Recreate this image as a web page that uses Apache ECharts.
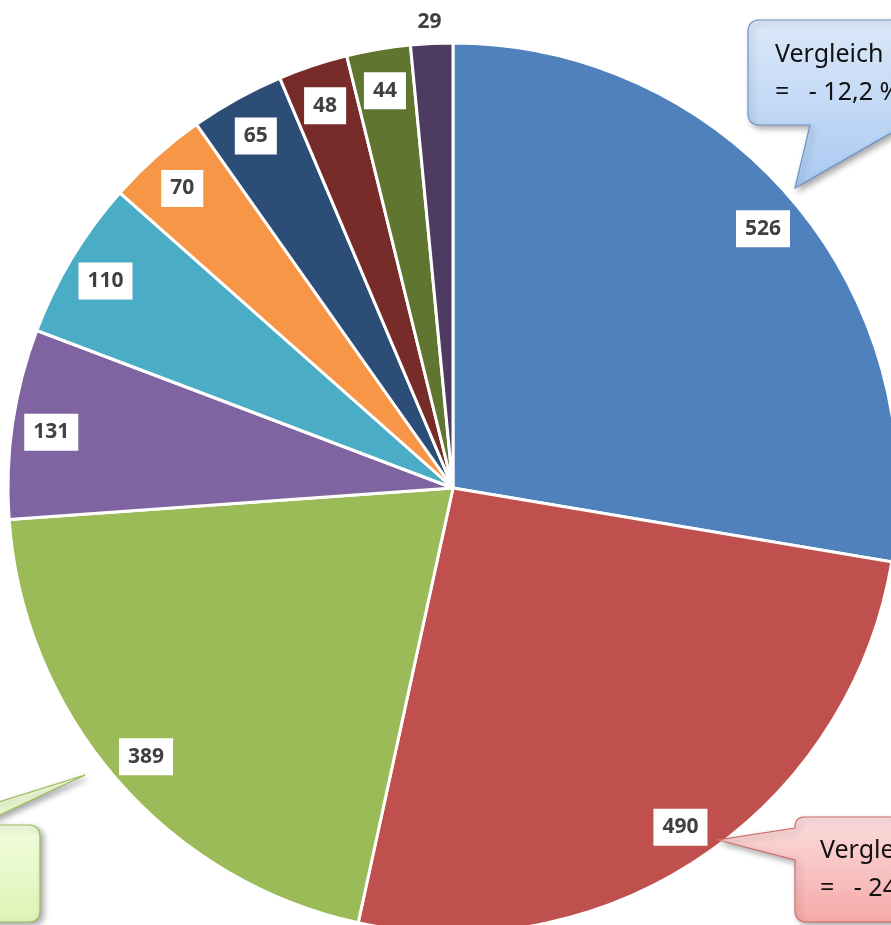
<!DOCTYPE html>
<html>
<head>
<meta charset="utf-8">
<script src="https://cdn.jsdelivr.net/npm/echarts@6/dist/echarts.min.js"></script>
<style>
  html, body { margin: 0; padding: 0; background: #fff; }
  #chart { width: 891px; height: 925px; }
</style>
</head>
<body>
<div id="chart"></div>
<script>
  // values clockwise from 12 o'clock
  const values = [526, 490, 389, 131, 110, 70, 65, 48, 44, 29]
  const categories = ['S1', 'S2', 'S3', 'S4', 'S5', 'S6', 'S7', 'S8', 'S9', 'S10']
  const calloutTexts = [
    ['Vergleich', '=   - 12,2 %'],
    ['Vergleich', '=   - 24']
  ]

  const palette = ['#4F81BD', '#C0504D', '#9BBB59', '#8064A2', '#4BACC6',
    '#F79646', '#2C4D75', '#772C2A', '#5F7530', '#4D3B62']

  const center = [453, 488]
  const R = 445

  const pieData = values.map((v, i) => ({ name: categories[i], value: v }))
  const labelData = values.map((v, i) => {
    const d = { name: categories[i], value: v }
    if (i === values.length - 1) {
      // smallest slice: number sits above the pie without a box
      d.label = { backgroundColor: 'transparent', offset: [-4, -60] }
    }
    return d
  })

  // corner list [x, y, radius] -> polygon points with rounded corners
  function rounded(corners) {
    const pts = []
    const n = corners.length
    for (let i = 0; i < n; i++) {
      const [x, y, r] = corners[i]
      if (!r) { pts.push([x, y]); continue }
      const p = corners[(i - 1 + n) % n], q = corners[(i + 1) % n]
      const a = [p[0] - x, p[1] - y], b = [q[0] - x, q[1] - y]
      const la = Math.hypot(a[0], a[1]), lb = Math.hypot(b[0], b[1])
      const s = [x + a[0] / la * r, y + a[1] / la * r]
      const e = [x + b[0] / lb * r, y + b[1] / lb * r]
      for (let k = 0; k <= 8; k++) {
        const t = k / 8
        pts.push([
          (1 - t) * (1 - t) * s[0] + 2 * (1 - t) * t * x + t * t * e[0],
          (1 - t) * (1 - t) * s[1] + 2 * (1 - t) * t * y + t * t * e[1]
        ])
      }
    }
    return pts
  }

  function grad(top, bottom) {
    return new echarts.graphic.LinearGradient(0, 0, 0, 1, [
      { offset: 0, color: top }, { offset: 1, color: bottom }
    ])
  }
  const shadow = { shadowBlur: 6, shadowOffsetX: 3, shadowOffsetY: 3, shadowColor: 'rgba(0,0,0,0.35)' }
  const calloutFont = '25px "Noto Sans"'

  function calloutText(x, y, text) {
    return { type: 'text', z: 101, x: x, y: y, style: { text: text, font: calloutFont, fill: '#111', verticalAlign: 'middle' } }
  }

  let myChart = echarts.init(document.getElementById('chart'))
  const option = {
    animation: false,
    color: palette,
    series: [
      {
        type: 'pie',
        center: center,
        radius: [0, R],
        startAngle: 90,
        clockwise: true,
        avoidLabelOverlap: false,
        silent: true,
        label: { show: false },
        labelLine: { show: false },
        itemStyle: { borderColor: '#fff', borderWidth: 3 },
        data: pieData
      },
      {
        // transparent ring only used to place the value labels near the rim
        type: 'pie',
        center: center,
        radius: [361, R],
        startAngle: 90,
        clockwise: true,
        avoidLabelOverlap: false,
        silent: true,
        itemStyle: { color: 'rgba(0,0,0,0)', borderWidth: 0 },
        labelLine: { show: false },
        label: {
          show: true,
          position: 'inside',
          formatter: '{c}',
          offset: [0, 3],
          color: '#404040',
          fontFamily: 'Open Sans',
          fontWeight: 'bold',
          fontSize: 21,
          lineHeight: 23,
          backgroundColor: '#fff',
          padding: [7, 9, 7, 9]
        },
        data: labelData
      }
    ],
    graphic: [
      // blue callout, top right
      {
        type: 'polygon', z: 100,
        shape: { points: rounded([[748, 20, 12], [910, 20, 0], [910, 125, 0], [905, 125, 0], [795, 188, 0], [810, 125, 0], [748, 125, 12]]) },
        style: Object.assign({ fill: grad('#dce9f9', '#a9c9f1'), stroke: '#6f93c9', lineWidth: 1.2 }, shadow)
      },
      calloutText(775, 55, calloutTexts[0][0]),
      calloutText(775, 93, calloutTexts[0][1]),
      // red callout, bottom right
      {
        type: 'polygon', z: 100,
        shape: { points: rounded([[795, 817, 10], [910, 817, 0], [910, 922, 0], [795, 922, 12], [795, 860, 0], [718, 840, 0], [795, 828, 0]]) },
        style: Object.assign({ fill: grad('#fbdcdc', '#f5a9a9'), stroke: '#cf6b6b', lineWidth: 1.2 }, shadow)
      },
      calloutText(820, 851, calloutTexts[1][0]),
      calloutText(820, 889, calloutTexts[1][1]),
      // green callout, bottom left
      {
        type: 'polygon', z: 100,
        shape: { points: [[-30, 811], [85, 775], [-30, 829]] },
        style: Object.assign({ fill: grad('#f2fcdf', '#e3f7c2'), stroke: '#9bbb59', lineWidth: 1.2 }, shadow)
      },
      {
        type: 'polygon', z: 100,
        shape: { points: rounded([[-20, 825, 0], [40, 825, 12], [40, 922, 12], [-20, 922, 0]]) },
        style: Object.assign({ fill: grad('#f2fcdf', '#dcf4b4'), stroke: '#9bbb59', lineWidth: 1.2 }, shadow)
      }
    ]
  }
  myChart.setOption(option)
</script>
</body>
</html>
